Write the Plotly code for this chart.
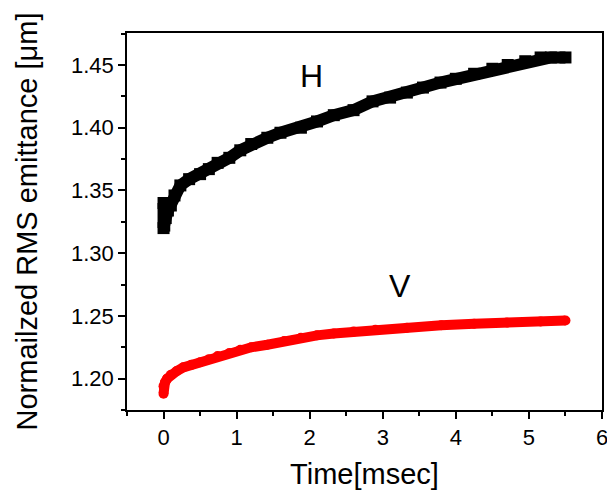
import plotly.graph_objects as go

# H (horizontal) emittance
h_time = [0.0, 0.0, 0.01, 0.03, 0.06, 0.1, 0.15, 0.23, 0.35, 0.5, 0.62, 0.74, 0.9, 1.05, 1.2,
          1.42, 1.6, 1.88, 2.1, 2.33, 2.6, 2.86, 3.1, 3.33, 3.55, 3.79, 4.0, 4.25, 4.5,
          4.71, 4.95, 5.16, 5.3, 5.5]
h_emit = [1.340, 1.320, 1.322, 1.328, 1.334, 1.338, 1.346, 1.354, 1.359, 1.363, 1.367, 1.372,
          1.376, 1.382, 1.387, 1.392, 1.396, 1.400, 1.405, 1.410, 1.414, 1.421, 1.424, 1.428,
          1.432, 1.436, 1.439, 1.443, 1.447, 1.450, 1.453, 1.456, 1.456, 1.456]

# V (vertical) emittance
v_time = [0.0, 0.0, 0.02, 0.05, 0.1, 0.18, 0.27, 0.38, 0.5, 0.62, 0.74, 0.9, 1.05, 1.2, 1.42,
          1.65, 1.88, 2.1, 2.33, 2.6, 2.9, 3.33, 3.8, 4.25, 4.7, 5.16, 5.5]
v_emit = [1.188, 1.194, 1.197, 1.200, 1.203, 1.206, 1.209, 1.211, 1.213, 1.2155, 1.218, 1.2205,
          1.223, 1.225, 1.227, 1.230, 1.2325, 1.2345, 1.236, 1.2375, 1.239, 1.2405, 1.2425,
          1.2438, 1.2448, 1.2456, 1.2463]

x_ticks = [0, 1, 2, 3, 4, 5, 6]
y_ticks = [1.20, 1.25, 1.30, 1.35, 1.40, 1.45]
y_tick_labels = ["1.20", "1.25", "1.30", "1.35", "1.40", "1.45"]

labels = ["H", "V"]
label_x = [2.03, 3.23]
label_y = [1.441, 1.274]

FONT = "Arial, Liberation Sans, sans-serif"

fig = go.Figure()
fig.add_trace(go.Scatter(x=h_time, y=h_emit, mode="lines+markers",
                         line=dict(color="black", width=12),
                         marker=dict(symbol="square", size=12, color="black"),
                         showlegend=False))
fig.add_trace(go.Scatter(x=v_time, y=v_emit, mode="lines+markers",
                         line=dict(color="#ff0000", width=10),
                         marker=dict(symbol="circle", size=10, color="#ff0000"),
                         showlegend=False))

for t, xx, yy in zip(labels, label_x, label_y):
    fig.add_annotation(x=xx, y=yy, text=t, showarrow=False,
                       font=dict(family=FONT, size=32, color="black"))

axis_common = dict(showgrid=False, zeroline=False, showline=True, linecolor="black",
                   linewidth=1.5, mirror=True, ticks="outside", ticklen=7, tickwidth=1.5,
                   tickcolor="black", automargin=False,
                   tickfont=dict(family=FONT, size=22, color="black"))

fig.update_xaxes(range=[-0.5, 6], tickvals=x_ticks,
                 minor=dict(ticks="outside", dtick=0.5, ticklen=4, tickwidth=1.5, tickcolor="black"),
                 title=dict(text="Time[msec]", font=dict(family=FONT, size=29, color="black"),
                            standoff=18),
                 **axis_common)
fig.update_yaxes(range=[1.175, 1.4755], tickvals=y_ticks, ticktext=y_tick_labels,
                 minor=dict(ticks="outside", dtick=0.025, ticklen=4, tickwidth=1.5, tickcolor="black"),
                 title=dict(text="Normailzed RMS emittance [μm]",
                            font=dict(family=FONT, size=29, color="black"), standoff=25),
                 **axis_common)

# the page adds an 8px body margin, so the figure is sized to fit the 615x490 window
fig.update_layout(width=607, height=482, plot_bgcolor="white", paper_bgcolor="white",
                  margin=dict(l=119, r=13, t=25, b=80))

fig.write_html("out.html")
